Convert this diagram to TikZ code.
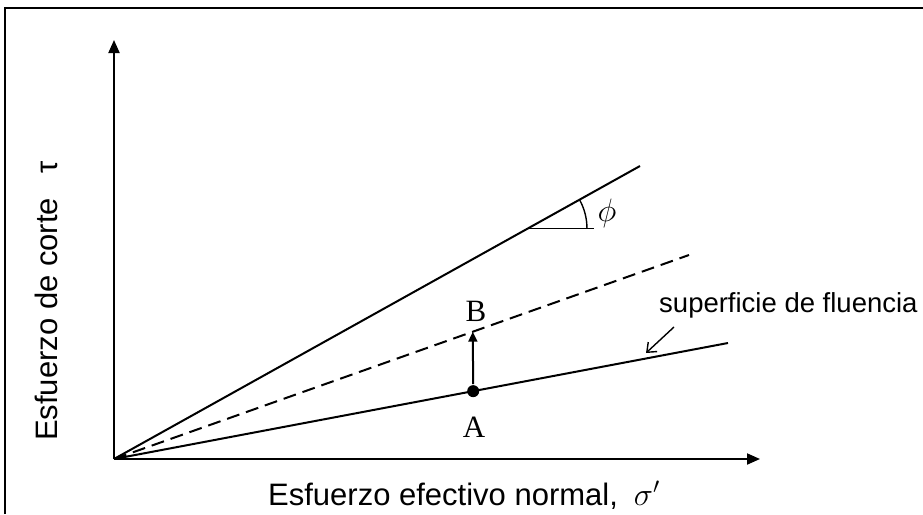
\documentclass[tikz,border=0pt]{standalone}
\usepackage{graphicx}
\usepackage{fontspec}
\setmainfont{Liberation Serif}
\newfontfamily\arialfont{Liberation Sans}
\usetikzlibrary{arrows.meta,calc}
\tikzset{
  axis/.style={line width=2pt, -{Triangle[length=13pt,width=11pt]}},
  envelope/.style={line width=2pt},
  lbl/.style={inner sep=0pt, font=\arialfont\fontsize{27.5}{32}\selectfont},
  axlbl/.style={inner sep=0pt, font=\arialfont\fontsize{31}{36}\selectfont},
  ptlbl/.style={inner sep=0pt, font=\fontsize{31}{34}\selectfont},
  dot/.style={circle, fill, inner sep=0pt, minimum size=12pt},
}
\newcommand{\bigsym}[1]{{\fontsize{24}{28}\selectfont\scalebox{1.3}{$#1$}}}

\begin{document}
\begin{tikzpicture}[x=1pt, y=-1pt]
  \useasboundingbox (0,0) rectangle (923,514);
  % frame, only its top and left edges are in view
  \draw[line width=2.5pt] (5,514) -- (5,8) -- (923,8);

  \coordinate (o) at (114,459);
  \coordinate (ytop) at (114,40);
  \coordinate (xend) at (760,459);
  \coordinate (upend) at (640,166);
  \coordinate (dashend) at (689,255);
  \coordinate (lowend) at (728,343);

  \draw[axis] (o) -- (ytop);
  \draw[axis] (o) -- (xend);

  \draw[envelope] (o) -- (upend) coordinate[pos=0.787] (pv);
  \draw[envelope, dash pattern=on 13pt off 7pt] (o) -- (dashend) coordinate[pos=0.624] (b);
  \draw[envelope] (o) -- (lowend) node[pos=0.585, dot] (a) {};

  % angle phi
  \draw[line width=1.4pt] (pv) -- ++(66,0);
  \draw[line width=1.4pt] ($(pv)+(59,0)$) arc[start angle=0, end angle=-29, radius=59];
  \node[inner sep=0pt] (phi) at (607,213) {\bigsym{\phi}};

  \draw[line width=2pt, -{Triangle[length=10pt,width=9pt]}] (a) -- (b);
  \node[ptlbl] (labA) at (474,427) {A};
  \node[ptlbl] (labB) at (476,311) {B};

  \node[lbl, anchor=west] (sup) at (659,305) {superficie de fluencia};
  \coordinate (supfrom) at (674,327);
  \coordinate (supto) at (646,353);
  \draw[line width=1.4pt, -{Straight Barb[length=8pt,width=13pt]}] (supfrom) -- (supto);

  \node[axlbl, anchor=west] (xlab) at (268,495) {Esfuerzo efectivo normal,\hspace{16pt}\bigsym{\sigma'}};
  \node[axlbl, anchor=west, rotate=90] (ylab) at (46,441) {Esfuerzo de corte\hspace{24pt}τ};
\end{tikzpicture}
\end{document}
